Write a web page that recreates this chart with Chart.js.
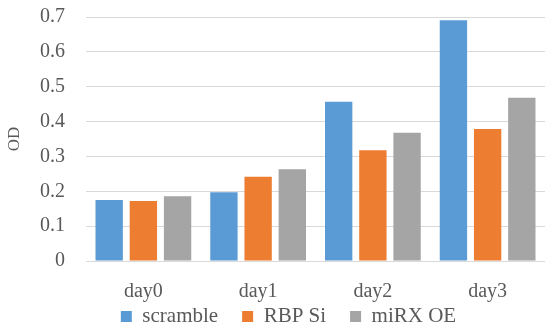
<!DOCTYPE html>
<html>
<head>
<meta charset="utf-8">
<script src="https://cdn.jsdelivr.net/npm/chart.js@4"></script>
<style>
  html, body { margin: 0; padding: 0; background: #fff; }
  #wrap { width: 545px; height: 326px; position: relative; }
</style>
</head>
<body>
<div id="wrap"><canvas id="odChart"></canvas></div>
<script>
// -------- Data --------
const days = ['day0', 'day1', 'day2', 'day3'];
const scramble = [0.175, 0.197, 0.457, 0.691];
const rbpSi = [0.172, 0.242, 0.318, 0.379];
const mirxOE = [0.186, 0.263, 0.368, 0.468];

const fontFamily = '"Liberation Serif", "Times New Roman", serif';
const textColor = '#595959';
Chart.defaults.font.family = fontFamily;
Chart.defaults.color = textColor;

const legendPad = 24;

function makeSet(label, data, color) {
  return {
    label: label,
    data: data,
    backgroundColor: color,
    borderWidth: 0,
    categoryPercentage: 0.894,
    barPercentage: 0.8
  };
}

// legend sits lower and a bit to the right, like the original
const legendNudge = {
  id: 'legendNudge',
  beforeInit(chart) {
    const fit = chart.legend.fit;
    chart.legend.fit = function () {
      fit.call(this);
      this.height = 22;
    };
  },
  afterLayout(chart) {
    const lg = chart.legend;
    lg.top = 318 - legendPad - 12;
    lg.bottom = chart.height;
    lg.height = lg.bottom - lg.top;
    lg.left += 14;
    lg.right += 14;
  }
};

const ctx = document.getElementById('odChart').getContext('2d');
const chart = new Chart(ctx, {
  type: 'bar',
  data: {
    labels: days,
    datasets: [
      makeSet('scramble', scramble, '#5B9BD5'),
      makeSet('RBP Si', rbpSi, '#ED7D31'),
      makeSet('miRX OE', mirxOE, '#A5A5A5')
    ]
  },
  plugins: [legendNudge],
  options: {
    responsive: true,
    maintainAspectRatio: false,
    animation: false,
    layout: { padding: { top: 17, right: 0, bottom: 0, left: 4 } },
    plugins: {
      tooltip: { enabled: false },
      legend: {
        position: 'bottom',
        labels: {
          color: textColor,
          font: { family: fontFamily, size: 21 },
          boxWidth: 11,
          boxHeight: 11,
          padding: legendPad
        }
      }
    },
    scales: {
      x: {
        grid: { display: false, drawTicks: false },
        border: { color: '#D9D9D9' },
        ticks: { color: textColor, font: { family: fontFamily, size: 20 }, padding: 19 },
        afterFit: scale => { scale.height = 43; }
      },
      y: {
        min: 0,
        max: 0.7,
        ticks: {
          stepSize: 0.1,
          color: textColor,
          font: { family: fontFamily, size: 20 },
          padding: 3,
          callback: v => v === 0 ? '0' : v.toFixed(1)
        },
        grid: { color: '#D9D9D9', drawTicks: true, tickLength: 18, tickColor: 'rgba(0,0,0,0)' },
        border: { display: false },
        title: {
          display: true,
          text: 'OD',
          color: textColor,
          font: { family: fontFamily, size: 17 },
          padding: 0
        },
        afterFit: scale => { scale.width = 82; }
      }
    }
  }
});
</script>
</body>
</html>
